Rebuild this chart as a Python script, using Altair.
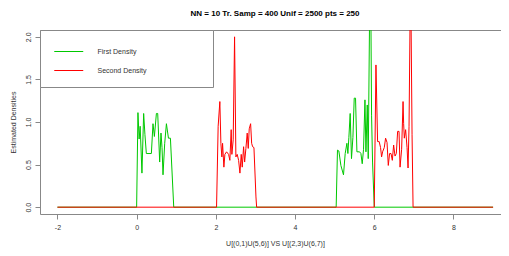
import altair as alt
import pandas as pd

title_text = "NN = 10 Tr. Samp = 400 Unif = 2500 pts = 250"
x_title = "U[(0,1)U(5,6)] VS U[(2,3)U(6,7)]"
y_title = "Estimated Densities"
series_names = ["First Density", "Second Density"]
series_colors = ["#00c800", "#ff0000"]
x_ticks = [-2, 0, 2, 4, 6, 8]
y_ticks = [0, 0.5, 1.0, 1.5, 2.0]

first_x = [-2.0, 0.0, 0.033, 0.063, 0.089, 0.134, 0.177, 0.210, 0.245, 0.372, 0.413, 0.448,
           0.499, 0.532, 0.582, 0.615, 0.641, 0.666, 0.709, 0.752, 0.803, 0.853, 0.937,
           5.038, 5.071, 5.106, 5.157, 5.223, 5.266, 5.309, 5.334, 5.359, 5.392, 5.425,
           5.461, 5.494, 5.527, 5.562, 5.628, 5.663, 5.696, 5.729, 5.765, 5.790, 5.823,
           5.848, 5.881, 5.916, 5.932, 5.957, 6.000, 9.0]
first_y = [0, 0, 1.11, 0.80, 0.95, 0.40, 1.10, 0.85, 0.63, 0.63, 0.98, 0.83,
           1.10, 1.10, 0.53, 0.87, 0.70, 0.38, 0.75, 0.98, 0.81, 0.81, 0,
           0, 0.67, 0.66, 0.49, 0.38, 0.63, 0.75, 0.63, 0.82, 1.10, 0.57,
           0.82, 1.28, 1.28, 0.65, 0.65, 0.63, 0.51, 0.68, 1.26, 0.65, 1.20,
           0.57, 2.2, 2.2, 1.08, 0.53, 0, 0]

second_x = [-2.0, 2.018, 2.058, 2.101, 2.127, 2.152, 2.170, 2.203, 2.228, 2.271, 2.322,
            2.354, 2.387, 2.405, 2.438, 2.473, 2.506, 2.539, 2.575, 2.608, 2.641, 2.666,
            2.701, 2.727, 2.759, 2.792, 2.818, 2.843, 2.878, 2.904, 2.929, 2.962, 3.013,
            3.030, 6.000, 6.043, 6.084, 6.124, 6.159, 6.185, 6.210, 6.253, 6.286, 6.322,
            6.354, 6.387, 6.423, 6.456, 6.489, 6.524, 6.557, 6.590, 6.625, 6.651, 6.691,
            6.727, 6.742, 6.759, 6.792, 6.828, 6.853, 6.878, 6.904, 6.929, 6.954, 6.980, 9.0]
second_y = [0, 0, 0.95, 1.24, 0.75, 0.59, 0.75, 0.47, 0.62, 0.65, 0.62,
            0.55, 0.91, 0.62, 0.79, 2.0, 0.59, 0.62, 0.55, 0.40, 0.62, 0.47,
            0.71, 0.53, 0.69, 0.87, 0.69, 0.92, 0.98, 0.75, 0.71, 0.70, 0.12,
            0, 0, 1.67, 0.77, 0.77, 0.70, 0.59, 0.65, 0.70, 0.81, 0.76,
            0.49, 0.63, 0.63, 0.55, 0.73, 0.60, 0.63, 0.89, 0.89, 0.47, 0.68,
            1.24, 0.98, 0.81, 0.91, 0.70, 0.46, 0.95, 2.2, 2.2, 0.85, 0, 0]

df = pd.concat([
    pd.DataFrame({"x": first_x, "y": first_y, "series": series_names[0]}),
    pd.DataFrame({"x": second_x, "y": second_y, "series": series_names[1]}),
], ignore_index=True)

FONT = "Liberation Sans"
AX = "#888888"
TXT = "#333333"

x_scale = alt.Scale(domain=[-2.44, 9.2], nice=False, zero=False)
y_scale = alt.Scale(domain=[-0.08, 2.08], nice=False, zero=False)

lines = alt.Chart(df).mark_line(strokeWidth=1, clip=True).encode(
    x=alt.X("x:Q", scale=x_scale,
            axis=alt.Axis(values=x_ticks, title=x_title, grid=False,
                          labelExpr="'' + datum.value",
                          labelFontSize=7, titleFontSize=7, labelPadding=4,
                          titlePadding=9, titleFontWeight="normal", titleX=235)),
    y=alt.Y("y:Q", scale=y_scale,
            axis=alt.Axis(values=y_ticks, title=y_title, grid=False, format=".1f",
                          labelAngle=270, labelAlign="center", labelBaseline="bottom",
                          labelFontSize=7, titleFontSize=7, labelPadding=4,
                          titlePadding=8, titleFontWeight="normal")),
    color=alt.Color("series:N",
                    scale=alt.Scale(domain=series_names, range=series_colors),
                    legend=alt.Legend(orient="none", legendX=0, legendY=0,
                                      title="\u00a0", titleOrient="right", titleFontSize=1,
                                      titlePadding=53, symbolType="M-1,0H3", symbolSize=210,
                                      symbolStrokeWidth=1, labelFontSize=7, labelOffset=28,
                                      padding=13.5, rowPadding=8, strokeColor=AX,
                                      fillColor="white", labelFont=FONT, labelColor=TXT)),
)

frame = alt.Chart(pd.DataFrame({"x": [x_ticks[0]]})).mark_point(opacity=0).encode(
    x=alt.X("x:Q", scale=x_scale,
            axis=alt.Axis(orient="top", labels=False, ticks=False, title=None, grid=False,
                          domainColor=AX)),
)

chart = alt.layer(lines, frame).resolve_axis(x="independent").properties(
    width=461, height=184,
    autosize=alt.AutoSizeParams(type="none"),
    padding={"left": 32, "top": 22, "right": 0, "bottom": 34},
    title=alt.TitleParams(title_text, fontSize=8, fontWeight="bold", font=FONT,
                          anchor="middle", offset=12, dx=4.5, color="#000000"),
).configure_view(stroke=None).configure_axis(
    domainColor=AX, tickColor=AX, tickSize=5, labelColor=TXT, titleColor=TXT,
    labelFont=FONT, titleFont=FONT,
)

chart.save("out.html", embed_options={"renderer": "svg", "actions": False})
